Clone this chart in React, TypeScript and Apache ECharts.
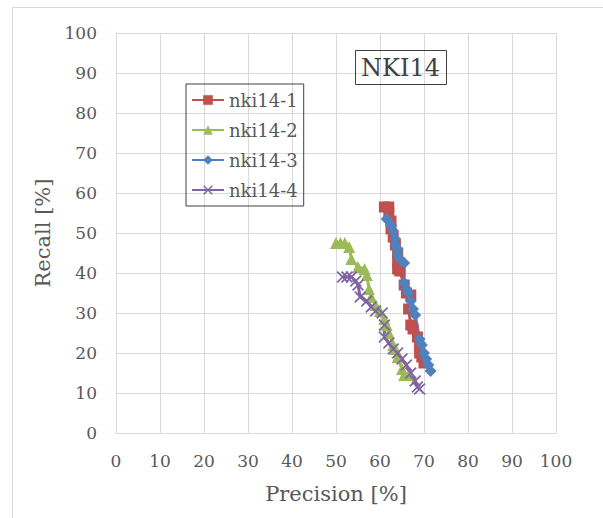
import React, { useEffect, useRef } from "react";
import * as echarts from "echarts";

const xTicks = [0, 10, 20, 30, 40, 50, 60, 70, 80, 90, 100];
const seriesNames = ["nki14-1", "nki14-2", "nki14-3", "nki14-4"];

const nki1: number[][] = [
  [61, 56.5], [62, 56.5], [62, 55], [62.5, 53], [62.5, 51], [63, 49], [63.5, 47],
  [64, 45], [64, 43], [64, 41], [64.5, 40.5], [65.5, 37], [66, 35], [67, 34.5],
  [66.5, 31], [67, 27], [67.5, 26], [68.5, 24], [69, 21.5], [69, 20], [69.5, 19], [70, 17.5],
];
const nki2: number[][] = [
  [50, 47.5], [51, 47.5], [52, 47.5], [53, 46.5], [53.5, 43.5], [55, 41.5], [56.5, 41],
  [57, 39.5], [57.5, 36], [58, 34], [59, 32], [60, 30.5], [61, 28.5], [61.5, 27],
  [62, 25], [63, 22], [63.5, 21], [64, 19], [65, 16], [65.5, 14.5], [66.5, 14.5],
];
const nki3: number[][] = [
  [61.5, 53.5], [62.5, 52], [63, 50.5], [63.5, 48.5], [63.5, 47], [64, 46], [64, 44.5],
  [64.5, 43.5], [65.5, 42.5], [65.5, 37.5], [66, 36], [66.5, 35], [67, 33], [67.5, 31],
  [68, 29.5], [69, 23.5], [69.5, 22], [70, 20], [70.5, 18.5], [71, 17], [71.5, 15.5],
];
const nki4: number[][] = [
  [51.5, 39], [52.5, 39], [53.5, 39], [54.5, 38], [55, 37], [55.5, 34], [57, 33],
  [58, 31.5], [59, 30.5], [60.5, 30], [61, 27], [61, 24], [62, 22.5], [63, 21],
  [64, 20], [65, 18.5], [66, 17], [67, 15], [68, 13], [68.5, 11.5], [69, 11],
];

const colors = ["#C0504D", "#9BBB59", "#4F81BD", "#8064A2"];
const symbols = [
  "rect",
  "triangle",
  "diamond",
  "path://M0,1L1,0L5,4L9,0L10,1L6,5L10,9L9,10L5,6L1,10L0,9L4,5Z",
];
const symbolSizes = [11, 12, 12, 12];
const datasets = [nki1, nki2, nki3, nki4];

const FONT = "DejaVu Serif";

export default function App() {
  const ref = useRef<HTMLDivElement>(null);
  useEffect(() => {
    document.body.style.margin = "0";
    if (!ref.current) return;
    const chart = echarts.init(ref.current, undefined, { renderer: "svg" });
    chart.setOption({
      animation: false,
      backgroundColor: "#ffffff",
      textStyle: { fontFamily: FONT },
      title: {
        text: "NKI14",
        left: 355,
        top: 50,
        padding: [6, 7, 5, 6],
        borderColor: "#404040",
        borderWidth: 1,
        textStyle: { fontFamily: FONT, fontSize: 24, fontWeight: "normal", color: "#404040" },
      },
      legend: {
        orient: "vertical",
        left: 186,
        top: 84,
        padding: [5, 6, 5, 5],
        borderColor: "#404040",
        borderWidth: 1,
        itemWidth: 32,
        itemHeight: 12,
        itemGap: 8,
        textStyle: { fontFamily: FONT, fontSize: 18, lineHeight: 22, color: "#595959" },
        data: seriesNames,
      },
      graphic: [
        {
          type: "rect",
          shape: { x: 12.5, y: 7.5, width: 620, height: 540 },
          style: { fill: "none", stroke: "#d9d9d9", lineWidth: 1 },
          silent: true,
        },
      ],
      grid: { left: 116, top: 33, width: 440, height: 400 },
      xAxis: {
        type: "value",
        min: 0,
        max: 100,
        interval: 10,
        name: "Precision [%]",
        nameLocation: "middle",
        nameGap: 50,
        nameTextStyle: { fontFamily: FONT, fontSize: 21, color: "#595959" },
        axisLine: { show: true, lineStyle: { color: "#d9d9d9" } },
        axisTick: { show: false },
        axisLabel: {
          fontFamily: FONT,
          fontSize: 17,
          color: "#595959",
          margin: 19,
          formatter: (v: number) => (xTicks.includes(v) ? String(v) : ""),
        },
        splitLine: { show: true, lineStyle: { color: "#d9d9d9" } },
      },
      yAxis: {
        type: "value",
        min: 0,
        max: 100,
        interval: 10,
        name: "Recall [%]",
        nameLocation: "middle",
        nameGap: 63,
        nameRotate: 90,
        nameTextStyle: { fontFamily: FONT, fontSize: 21, color: "#595959" },
        axisLine: { show: true, lineStyle: { color: "#d9d9d9" } },
        axisTick: { show: false },
        axisLabel: { fontFamily: FONT, fontSize: 17, color: "#595959", margin: 19 },
        splitLine: { show: true, lineStyle: { color: "#d9d9d9" } },
      },
      series: seriesNames.map((name, i) => ({
        name,
        type: "line",
        data: datasets[i],
        color: colors[i],
        symbol: symbols[i],
        symbolSize: symbolSizes[i],
        showAllSymbol: true,
        lineStyle: { width: 3, color: colors[i] },
        itemStyle: { color: colors[i] },
      })),
    });
    return () => chart.dispose();
  }, []);
  return <div ref={ref} style={{ width: 603, height: 518 }} />;
}
